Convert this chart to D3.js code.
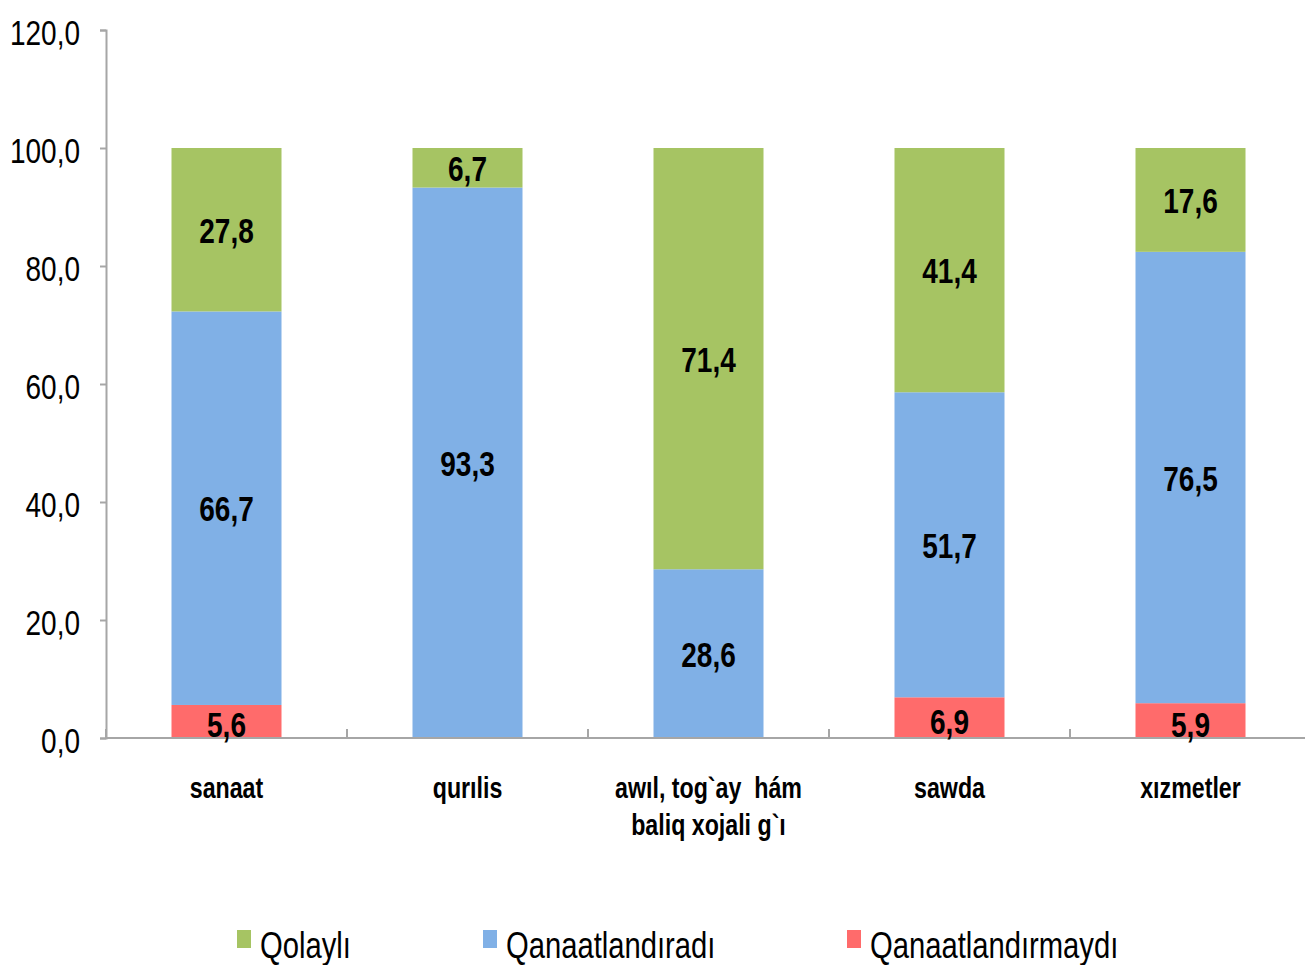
<!DOCTYPE html>
<html>
<head>
<meta charset="utf-8">
<script src="https://cdn.jsdelivr.net/npm/d3@7"></script>
<style>
    body { margin: 0; background: #fff; }
    text { font-family: "Liberation Sans", Arial, sans-serif; }
</style>
</head>
<body>
<svg id="chart" width="1305" height="965"></svg>
<script>
// categories (two-line labels split by "\n")
var categories = ["sanaat", "qurılis", "awıl, tog`ay  hám\nbaliq xojali g`ı", "sawda", "xızmetler"];

// series values, bottom to top
var qanaatlandirmaydi = [5.6, 0, 0, 6.9, 5.9];
var qanaatlandiradi   = [66.7, 93.3, 28.6, 51.7, 76.5];
var qolayli           = [27.8, 6.7, 71.4, 41.4, 17.6];

var seriesNames = ["Qolaylı", "Qanaatlandıradı", "Qanaatlandırmaydı"];
var yTicks = [0, 20, 40, 60, 80, 100, 120];

var colors = {
    "Qolaylı": "#a6c463",
    "Qanaatlandıradı": "#80b0e6",
    "Qanaatlandırmaydı": "#ff6b6b"
};

var NARROW = 0.8;   // no narrow font installed, squeeze text horizontally

var svg = d3.select("#chart");

var plotLeft = 106, plotRight = 1305, plotTop = 30, plotBottom = 738;

// the last category runs a little past the picture's edge
var x = d3.scaleBand()
    .domain(d3.range(categories.length))
    .range([plotLeft, 1311]);

var y = d3.scaleLinear()
    .domain([0, 120])
    .range([plotBottom, plotTop]);

var barWidth = 110;

function fmt(v) {
    return d3.format(".1f")(v).replace(".", ",");
}

function place(sel, px, py) {
    // position a text and squeeze it
    sel.attr("transform", "translate(" + px + "," + py + ") scale(" + NARROW + ",1)")
        .attr("x", 0)
        .attr("y", 0);
}

// stacked data, bottom to top
var rows = categories.map(function(c, i) {
    return {
        i: i,
        "Qanaatlandırmaydı": qanaatlandirmaydi[i],
        "Qanaatlandıradı": qanaatlandiradi[i],
        "Qolaylı": qolayli[i]
    };
});
var stack = d3.stack().keys(["Qanaatlandırmaydı", "Qanaatlandıradı", "Qolaylı"]);
var layers = stack(rows);

var barsG = svg.append("g");
layers.forEach(function(layer) {
    barsG.selectAll(null)
        .data(layer.filter(function(d) { return d[1] - d[0] > 0; }))
        .enter()
        .append("rect")
        .attr("x", function(d) { return x(d.data.i) + x.bandwidth() / 2 - barWidth / 2; })
        .attr("y", function(d) { return y(Math.min(d[1], 100)); })
        .attr("width", barWidth)
        .attr("height", function(d) { return y(d[0]) - y(Math.min(d[1], 100)); })
        .attr("fill", colors[layer.key]);
});

// y axis
var yAxis = d3.axisLeft(y)
    .tickValues(yTicks)
    .tickSize(6)
    .tickFormat(fmt);

var yG = svg.append("g")
    .attr("transform", "translate(" + plotLeft + ",0)")
    .call(yAxis);
yG.select(".domain").attr("stroke", "#a6a6a6").attr("stroke-width", 2);
yG.selectAll(".tick line").attr("stroke", "#a6a6a6").attr("stroke-width", 2);
yG.selectAll(".tick text")
    .attr("font-size", "35px")
    .attr("font-family", null)
    .attr("fill", "#000")
    .attr("dy", "0.36em")
    .each(function() { place(d3.select(this), -26, 2); });

// x axis: line with boundary ticks pointing up
svg.append("line")
    .attr("x1", plotLeft).attr("x2", plotRight)
    .attr("y1", plotBottom).attr("y2", plotBottom)
    .attr("stroke", "#a6a6a6").attr("stroke-width", 2);

svg.selectAll(".xtick")
    .data(d3.range(categories.length))
    .enter()
    .append("line")
    .attr("x1", function(d) { return x(d); })
    .attr("x2", function(d) { return x(d); })
    .attr("y1", plotBottom)
    .attr("y2", plotBottom - 9)
    .attr("stroke", "#a6a6a6").attr("stroke-width", 2);

// category labels
categories.forEach(function(c, i) {
    c.split("\n").forEach(function(line, k) {
        svg.append("text")
            .attr("text-anchor", "middle")
            .attr("font-size", "29px")
            .attr("font-weight", "bold")
            .attr("fill", "#000")
            .attr("xml:space", "preserve")
            .text(line)
            .call(place, x(i) + x.bandwidth() / 2, 798 + k * 37);
    });
});

// value labels
layers.forEach(function(layer) {
    layer.filter(function(d) { return d[1] - d[0] > 0; }).forEach(function(d) {
        var mid = (y(d[0]) + y(Math.min(d[1], 100))) / 2;
        // small bottom segments: label sits a bit lower
        var off = (d[1] - d[0] < 10) && d[0] === 0 && layer.key === "Qanaatlandırmaydı" ? 16 : 13;
        svg.append("text")
            .attr("text-anchor", "middle")
            .attr("font-size", "35px")
            .attr("font-weight", "bold")
            .attr("fill", "#000")
            .text(fmt(d[1] - d[0]))
            .call(place, x(d.data.i) + x.bandwidth() / 2, mid + off);
    });
});

// legend
var legendX = [237, 483, 847];
seriesNames.forEach(function(name, i) {
    svg.append("rect")
        .attr("x", legendX[i])
        .attr("y", 930)
        .attr("width", 14)
        .attr("height", 18)
        .attr("fill", colors[name]);

    svg.append("text")
        .attr("font-size", "36.5px")
        .attr("fill", "#000")
        .text(name)
        .call(place, legendX[i] + 23, 958);
});
</script>
</body>
</html>
